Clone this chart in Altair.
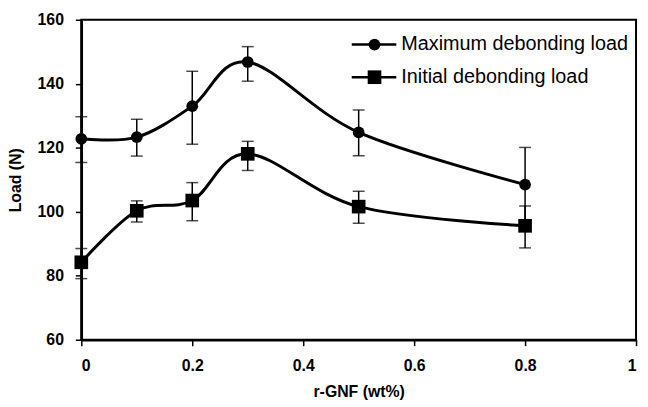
import altair as alt
import pandas as pd

x_vals = [0, 0.1, 0.2, 0.3, 0.5, 0.8]
max_load = [122.8, 123.3, 133.0, 146.8, 124.8, 108.5]
max_hi = [129.7, 128.9, 143.9, 151.6, 131.8, 120.1]
max_lo = [115.4, 117.4, 121.1, 140.8, 117.5, 96.9]
init_load = [84.2, 100.3, 103.5, 118.1, 101.6, 95.6]
init_hi = [88.5, 103.4, 109.1, 122.0, 106.4, 101.8]
init_lo = [79.1, 96.8, 97.2, 112.9, 96.4, 88.7]
series_names = ["Maximum debonding load", "Initial debonding load"]
series_shapes = ["circle", "square"]
series_sizes = [140, 190]

rows = []
for xv, y, lo, hi in zip(x_vals, max_load, max_lo, max_hi):
    rows.append({"x": xv, "y": y, "lo": lo, "hi": hi, "series": series_names[0]})
for xv, y, lo, hi in zip(x_vals, init_load, init_lo, init_hi):
    rows.append({"x": xv, "y": y, "lo": lo, "hi": hi, "series": series_names[1]})
df = pd.DataFrame(rows)

FONT = "Liberation Sans"

xs = alt.X("x:Q", scale=alt.Scale(domain=[0, 1], nice=False),
           axis=alt.Axis(title="r-GNF (wt%)", values=[0, 0.2, 0.4, 0.6, 0.8, 1],
                         format="~g", grid=False))
ys = alt.Y("y:Q", scale=alt.Scale(domain=[60, 160], nice=False),
           axis=alt.Axis(title="Load (N)", values=[60, 80, 100, 120, 140, 160], grid=False))

base = alt.Chart(df)

lines = base.mark_line(color="black", strokeWidth=3, interpolate="cardinal", tension=0).encode(
    x=xs, y=ys, detail="series:N")

err = base.mark_rule(color="black", strokeWidth=1.5).encode(
    x="x:Q", y="lo:Q", y2="hi:Q")
cap_hi = base.mark_tick(color="black", thickness=1.5, size=12, orient="horizontal").encode(
    x="x:Q", y="hi:Q")
cap_lo = base.mark_tick(color="black", thickness=1.5, size=12, orient="horizontal").encode(
    x="x:Q", y="lo:Q")

points = base.mark_point(filled=True, opacity=1, color="black").encode(
    x="x:Q", y="y:Q",
    shape=alt.Shape("series:N", scale=alt.Scale(domain=series_names, range=series_shapes), legend=None),
    size=alt.Size("series:N", scale=alt.Scale(domain=series_names, range=series_sizes), legend=None),
)

# manual legend (line + marker + label), placed in the upper right of the plot
LEG_LINE_X0, LEG_LINE_X1, LEG_MARK_X, LEG_TEXT_X = 273, 318, 296, 323
LEG_ROW_Y = [25, 58]
legend_layers = []
for name, shp, sz, ry in zip(series_names, series_shapes, series_sizes, LEG_ROW_Y):
    ldf = alt.Chart(pd.DataFrame({"label": [name]}))
    legend_layers.append(ldf.mark_rule(color="black", strokeWidth=2.5).encode(
        x=alt.value(LEG_LINE_X0), x2=alt.value(LEG_LINE_X1), y=alt.value(ry)))
    legend_layers.append(ldf.mark_point(filled=True, opacity=1, color="black", shape=shp, size=sz).encode(
        x=alt.value(LEG_MARK_X), y=alt.value(ry)))
    legend_layers.append(ldf.mark_text(align="left", baseline="middle", font=FONT, fontSize=20,
                                       color="black").encode(
        text="label:N", x=alt.value(LEG_TEXT_X), y=alt.value(ry)))

chart = alt.layer(lines, err, cap_hi, cap_lo, points, *legend_layers).properties(
    width=560, height=323,
    autosize=alt.AutoSizeParams(type="none"),
    padding={"left": 74, "top": 10, "right": 4, "bottom": 62},
).configure_view(
    stroke="black", strokeWidth=2
).configure_axis(
    labelFont=FONT, labelFontSize=16, labelFontWeight="bold", labelColor="black",
    titleFont=FONT, titleFontSize=16, titleFontWeight="bold", titleColor="black",
    domainColor="black", domainWidth=2.5, tickColor="black", tickWidth=1.5, tickSize=6,
).configure_axisY(
    labelPadding=12, titlePadding=14
).configure_axisX(
    labelPadding=12, titlePadding=10
)

chart.save("out.html", embed_options={"renderer": "svg", "actions": False})
